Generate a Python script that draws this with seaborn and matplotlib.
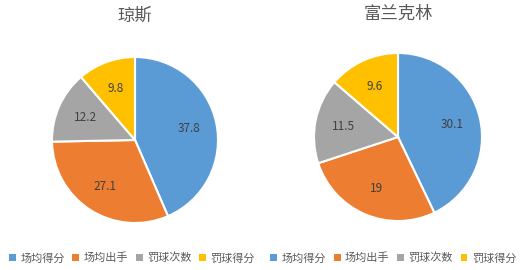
import matplotlib
matplotlib.use("Agg")
import matplotlib.pyplot as plt
import seaborn as sns
from matplotlib.patches import Patch

sns.set_theme(style="white")
plt.rcParams['font.family'] = ['Noto Sans CJK SC', 'DejaVu Sans']

categories = ["场均得分", "场均出手", "罚球次数", "罚球得分"]
jones_values = [37.8, 27.1, 12.2, 9.8]
jones_labels = ["37.8", "27.1", "12.2", "9.8"]
franklin_values = [30.1, 19, 11.5, 9.6]
franklin_labels = ["30.1", "19", "11.5", "9.6"]
titles = ["琼斯", "富兰克林"]
colors = ["#5B9BD5", "#ED7D31", "#A5A5A5", "#FFC000"]

fig = plt.figure(figsize=(5.28, 2.70), dpi=100)
fig.patch.set_facecolor("white")

W, H = 528, 270
def add_pie_ax(cx, cy, r):
    return fig.add_axes([(cx - r) / W, (H - cy - r) / H, 2 * r / W, 2 * r / H])

ax1 = add_pie_ax(135, 140, 83)
ax2 = add_pie_ax(398, 137, 84)

for ax, vals, labs, title, ty in [(ax1, jones_values, jones_labels, titles[0], 16),
                                   (ax2, franklin_values, franklin_labels, titles[1], 14)]:
    it = iter(labs)
    ax.pie(vals, colors=colors, startangle=90, counterclock=False,
           autopct=lambda p, it=it: next(it), pctdistance=0.66,
           wedgeprops=dict(edgecolor="white", linewidth=1.5),
           textprops=dict(fontsize=8.5, color="#404040"))
    ax.set_aspect("equal")
    ax.set_xlim(-1, 1)
    ax.set_ylim(-1, 1)
    ax.axis("off")
    bbox = ax.get_position()
    fig.text((bbox.x0 + bbox.x1) / 2, 1 - ty / H, title, ha="center", va="center",
             fontsize=12.5, color="#595959")

handles = [Patch(facecolor=c, edgecolor="none") for c in colors]
for x in [0.25, 0.745]:
    fig.legend(handles, categories, loc="center", bbox_to_anchor=(x, 1 - 258 / H),
               ncol=4, frameon=False, fontsize=8, handlelength=0.6, handleheight=0.6,
               handletextpad=0.4, columnspacing=0.7, labelcolor="#595959")

fig.savefig("out.png", dpi=100, facecolor="white")
